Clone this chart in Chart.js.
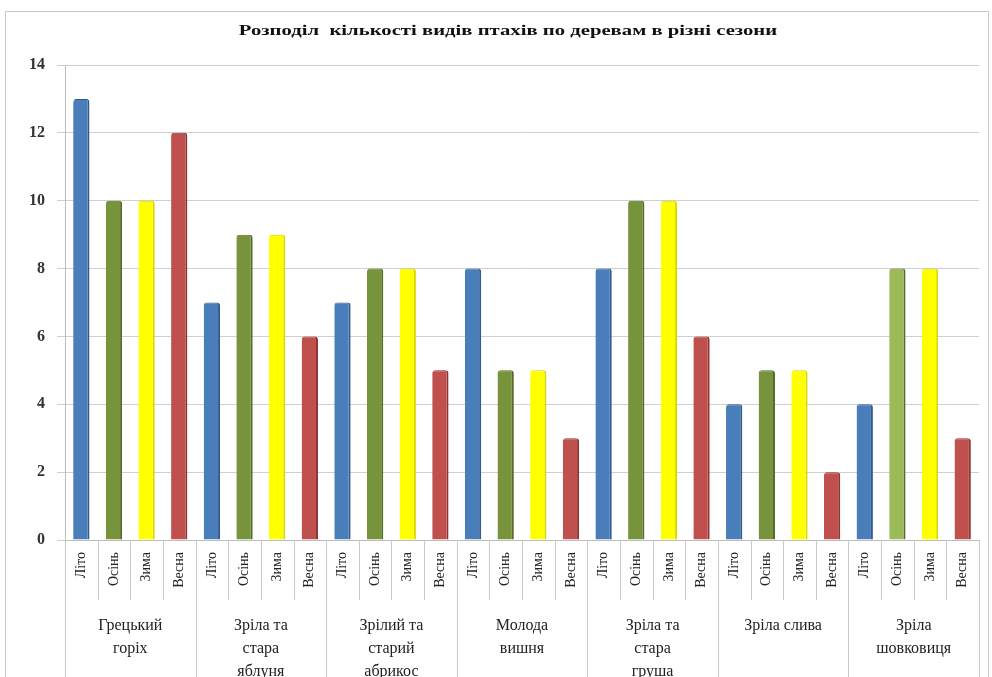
<!DOCTYPE html>
<html><head><meta charset="utf-8">
<script src="https://cdn.jsdelivr.net/npm/chart.js@4/dist/chart.umd.min.js"></script>
<style>html,body{margin:0;padding:0;background:#fff}#wrap{position:relative;width:992px;height:677px}
#frame{position:absolute;left:5px;top:11px;width:984px;height:680px;border:1px solid #c9c9c9;box-sizing:border-box}</style>
</head><body><div id="wrap"><div id="frame"></div><canvas id="c" width="992" height="677"></canvas></div>
<script>
const seasons = ['Літо','Осінь','Зима','Весна'];
const groups = [['Грецький','горіх'],['Зріла та','стара','яблуня'],['Зрілий та','старий','абрикос'],['Молода','вишня'],['Зріла та','стара','груша'],['Зріла слива'],['Зріла','шовковиця']];
const summer = [13,7,7,8,8,4,4];
const autumn = [10,9,8,5,10,5,8];
const winter = [10,9,8,5,10,5,8];
const spring = [12,6,5,3,6,2,3];
const yTicks = [0,2,4,6,8,10,12,14];
const title = 'Розподіл  кількості видів птахів по деревам в різні сезони';

const seasonColors = ['#4a7ebb','#77933c','#ffff00','#c0504d'];
const seasonBorders = ['#2f5b8f','#556b2a','#d8d800','#8e3432'];
const series = [summer, autumn, winter, spring];
const labels = [], values = [], bg = [], bd = [];
groups.forEach((g, gi) => {
  seasons.forEach((s, si) => {
    labels.push(s);
    values.push(series[si][gi]);
    let c = seasonColors[si];
    if (gi === 6 && si === 1) c = '#9bbb59';
    bg.push(c); bd.push(seasonBorders[si]);
  });
});

const groupPlugin = {
  id: 'groups',
  afterDraw(chart) {
    const ctx = chart.ctx, x = chart.scales.x, area = chart.chartArea;
    const step = x.getPixelForValue(1) - x.getPixelForValue(0);
    ctx.save();
    ctx.strokeStyle = '#c8c8c8'; ctx.lineWidth = 1;
    for (let i = 0; i <= labels.length; i++) {
      const px = Math.round(x.getPixelForValue(Math.min(i, labels.length - 1)) + (i < labels.length ? -step/2 : step/2)) + 0.5;
      const major = i % 4 === 0;
      ctx.beginPath(); ctx.moveTo(px, area.bottom); ctx.lineTo(px, major ? 677 : area.bottom + 60); ctx.stroke();
    }
    ctx.fillStyle = '#222';
    ctx.font = '16px "Liberation Serif", serif';
    ctx.textAlign = 'center'; ctx.textBaseline = 'middle';
    groups.forEach((g, gi) => {
      const cx = (x.getPixelForValue(gi*4) + x.getPixelForValue(gi*4+3)) / 2;
      g.forEach((line, li) => ctx.fillText(line, cx, area.bottom + 86 + li*23));
    });
    // title, horizontally stretched like the reference
    ctx.fillStyle = '#111';
    ctx.font = 'bold 15px "Liberation Serif", serif';
    ctx.translate(508, 31);
    ctx.scale(1.38, 1);
    ctx.fillText(title, 0, 0);
    ctx.restore();
  }
};

new Chart(document.getElementById('c'), {
  type: 'bar',
  data: { labels, datasets: [{ data: values, backgroundColor: bg, borderColor: bd, borderWidth: {right:2, top:1, left:0, bottom:0}, borderRadius: {topLeft:3, topRight:3}, borderSkipped: 'bottom', barPercentage: 0.5, categoryPercentage: 1 }] },
  options: {
    responsive: false, animation: false,
    layout: { padding: { left: 14, right: 13, top: 65, bottom: 0 } },
    plugins: {
      legend: { display: false }, tooltip: { enabled: false },
      title: { display: false }
    },
    scales: {
      x: {
        grid: { display: false },
        border: { color: '#bdbdbd' },
        ticks: { color: '#222', minRotation: 90, maxRotation: 90, autoSkip: false, padding: 4, font: { family: '"Liberation Serif", serif', size: 14 } },
        afterFit(s) { s.height = 137; }
      },
      y: {
        min: 0, max: 14,
        afterBuildTicks(s) { s.ticks = yTicks.map(v => ({ value: v })); },
        grid: { color: '#cfcfcf', drawTicks: true, tickLength: 8 },
        border: { color: '#bdbdbd' },
        ticks: { color: '#333', padding: 12, font: { family: '"Liberation Serif", serif', size: 16, weight: 'bold' } },
        afterFit(s) { s.width = 51; }
      }
    }
  },
  plugins: [groupPlugin]
});
</script></body></html>
